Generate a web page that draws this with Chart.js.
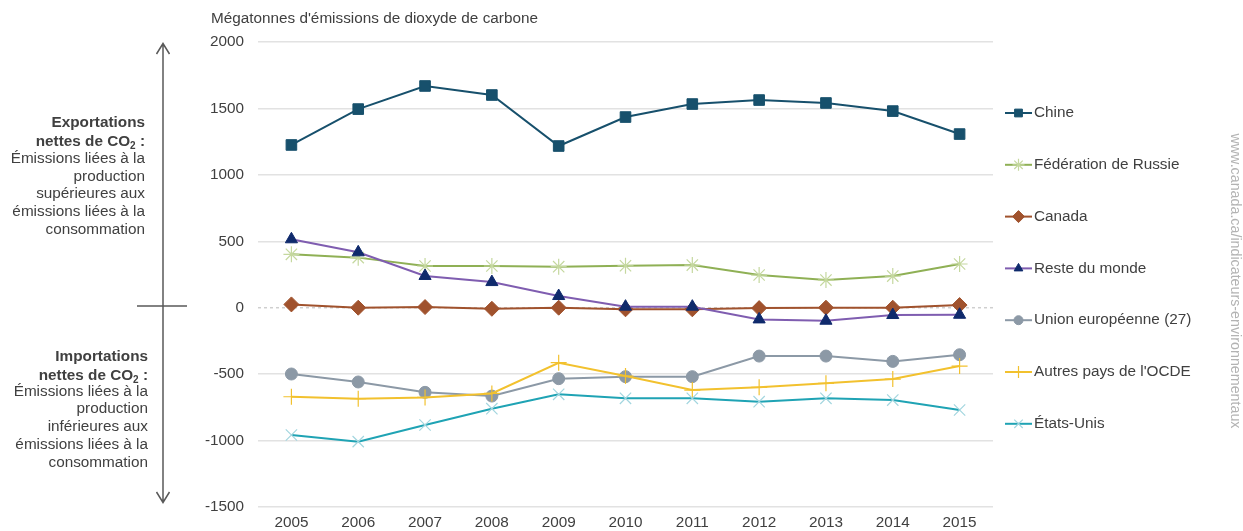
<!DOCTYPE html>
<html>
<head>
<meta charset="utf-8">
<script src="https://cdn.jsdelivr.net/npm/chart.js@4/dist/chart.umd.min.js"></script>
<style>
  html, body { margin: 0; padding: 0; background: #ffffff; }
  #wrap { width: 1243px; height: 531px; position: relative; }
  canvas { display: block; }
</style>
</head>
<body>
<div id="wrap"><canvas id="c" width="1243" height="531"></canvas></div>
<script>
// ---- Data ----
const years = ['2005','2006','2007','2008','2009','2010','2011','2012','2013','2014','2015'];
const seriesNames = ['Chine','Fédération de Russie','Canada','Reste du monde','Union européenne (27)',"Autres pays de l'OCDE",'États-Unis'];
const chine = [1225, 1495, 1669, 1601, 1217, 1435, 1533, 1563, 1541, 1480, 1307];
const russie = [402, 377, 314, 314, 309, 316, 321, 246, 208, 238, 329];
const canada = [25, 0, 5, -8, 0, -12, -12, -3, 0, 0, 20];
const resteMonde = [515, 417, 239, 193, 88, 8, 8, -88, -98, -55, -53];
const ue27 = [-499, -559, -637, -665, -534, -519, -519, -364, -364, -404, -354];
const autresOCDE = [-670, -685, -675, -645, -414, -514, -620, -599, -569, -537, -439];
const etatsUnis = [-958, -1008, -883, -760, -652, -682, -682, -707, -682, -695, -770];
const yTicks = [-1500, -1000, -500, 0, 500, 1000, 1500, 2000];
const yTitle = "Mégatonnes d'émissions de dioxyde de carbone";
const exportText = ['Exportations', 'nettes de CO|2| :', 'Émissions liées à la', 'production', 'supérieures aux', 'émissions liées à la', 'consommation'];
const importText = ['Importations', 'nettes de CO|2| :', 'Émissions liées à la', 'production', 'inférieures aux', 'émissions liées à la', 'consommation'];
const sourceText = 'www.canada.ca/indicateurs-environnementaux';

const FONT = "'Liberation Sans', Arial, sans-serif";
const TEXT = '#404040';
const FS = 15.3;

const styles = [
  { line: '#17506c', fill: '#17506c', stroke: '#17506c', ps: 'rect', r: 7.5, lr: 5.5, bw: 1 },
  { line: '#8fb055', fill: '#c5d89f', stroke: '#c5d89f', ps: 'star', r: 8, lr: 6, bw: 1.2 },
  { line: '#a0522d', fill: '#a0522d', stroke: '#a0522d', ps: 'rectRot', r: 7.5, lr: 6, bw: 1 },
  { line: '#7f5db0', fill: '#0f2a6c', stroke: '#0f2a6c', ps: 'triangle', r: 7, lr: 5, bw: 1 },
  { line: '#8c99a6', fill: '#8c99a6', stroke: '#8c99a6', ps: 'circle', r: 6, lr: 4.5, bw: 1 },
  { line: '#f2c12e', fill: '#f2c12e', stroke: '#f2c12e', ps: 'cross', r: 8, lr: 6, bw: 1.2 },
  { line: '#1fa3b4', fill: '#a3d6df', stroke: '#a3d6df', ps: 'crossRot', r: 8, lr: 6, bw: 1.2 }
];
const values = [chine, russie, canada, resteMonde, ue27, autresOCDE, etatsUnis];

const datasets = values.map((v, i) => ({
  label: seriesNames[i],
  data: v,
  borderColor: styles[i].line,
  borderWidth: 2,
  tension: 0,
  pointStyle: styles[i].ps,
  pointRadius: styles[i].r,
  pointHoverRadius: styles[i].r,
  pointBackgroundColor: styles[i].fill,
  pointBorderColor: styles[i].stroke,
  pointBorderWidth: styles[i].bw,
  order: values.length - i
}));

// Zero line (dotted)
const zeroLine = {
  id: 'zeroLine',
  beforeDatasetsDraw(chart) {
    const { ctx, chartArea, scales } = chart;
    const y = scales.y.getPixelForValue(0);
    ctx.save();
    ctx.strokeStyle = '#cfcfcf';
    ctx.lineWidth = 1.5;
    ctx.setLineDash([3, 3]);
    ctx.beginPath();
    ctx.moveTo(chartArea.left, y);
    ctx.lineTo(chartArea.right, y);
    ctx.stroke();
    ctx.restore();
  }
};

function drawRich(ctx, str, xRight, y, size, bold) {
  const parts = str.split('|');
  const main = (bold ? 'bold ' : '') + size + 'px ' + FONT;
  const sub = (bold ? 'bold ' : '') + Math.round(size * 0.68) + 'px ' + FONT;
  let widths = parts.map((p, k) => { ctx.font = (k % 2 === 1) ? sub : main; return ctx.measureText(p).width; });
  const total = widths.reduce((a, b) => a + b, 0);
  let x = xRight - total;
  ctx.textAlign = 'left';
  parts.forEach((p, k) => {
    ctx.font = (k % 2 === 1) ? sub : main;
    ctx.fillText(p, x, y + ((k % 2 === 1) ? 4 : 0));
    x += widths[k];
  });
}

const decorations = {
  id: 'decorations',
  afterDraw(chart) {
    const ctx = chart.ctx;
    ctx.save();
    // Title
    ctx.fillStyle = TEXT;
    ctx.font = FS + 'px ' + FONT;
    ctx.textAlign = 'left';
    ctx.textBaseline = 'middle';
    ctx.fillText(yTitle, 211, 19);

    // Arrow
    ctx.strokeStyle = '#595959';
    ctx.lineWidth = 1.5;
    ctx.beginPath();
    ctx.moveTo(163, 44); ctx.lineTo(163, 502);
    ctx.moveTo(156.5, 54); ctx.lineTo(163, 43.5); ctx.lineTo(169.5, 54);
    ctx.moveTo(156.5, 492); ctx.lineTo(163, 502.5); ctx.lineTo(169.5, 492);
    ctx.moveTo(137, 306); ctx.lineTo(187, 306);
    ctx.stroke();

    // Side texts
    ctx.fillStyle = TEXT;
    ctx.textBaseline = 'middle';
    const topY = [123, 142, 159, 177, 194, 212, 230];
    exportText.forEach((t, i) => drawRich(ctx, t, 145, topY[i], 15.3, i < 2));
    const botY = [357, 376, 392, 409, 427, 445, 463];
    importText.forEach((t, i) => drawRich(ctx, t, 148, botY[i], 15.3, i < 2));

    // Legend
    const ds = chart.data.datasets;
    ds.forEach((d, i) => {
      const y = 113 + i * 51.8;
      const st = styles[i];
      ctx.strokeStyle = st.line;
      ctx.lineWidth = 2;
      ctx.setLineDash([]);
      ctx.beginPath();
      ctx.moveTo(1005, y); ctx.lineTo(1032, y);
      ctx.stroke();
      ctx.fillStyle = st.fill;
      ctx.strokeStyle = st.stroke;
      ctx.lineWidth = st.bw;
      Chart.helpers.drawPoint(ctx, { pointStyle: st.ps, radius: st.lr, borderWidth: st.bw, rotation: 0 }, 1018.5, y);
      ctx.fillStyle = TEXT;
      ctx.font = FS + 'px ' + FONT;
      ctx.textAlign = 'left';
      ctx.textBaseline = 'middle';
      ctx.fillText(d.label, 1034, y);
    });

    // Source (vertical)
    ctx.fillStyle = '#b3b3b3';
    ctx.font = '14px ' + FONT;
    const w = ctx.measureText(sourceText).width;
    const fs = 14 * 295 / w;
    ctx.font = fs.toFixed(2) + 'px ' + FONT;
    ctx.translate(1235, 281);
    ctx.rotate(Math.PI / 2);
    ctx.textAlign = 'center';
    ctx.textBaseline = 'middle';
    ctx.fillText(sourceText, 0, 0);
    ctx.restore();
  }
};

new Chart(document.getElementById('c'), {
  type: 'line',
  data: { labels: years, datasets },
  options: {
    responsive: false,
    animation: false,
    devicePixelRatio: 1,
    layout: { padding: { left: 200, right: 250, top: 42, bottom: 0 } },
    plugins: { legend: { display: false }, tooltip: { enabled: false } },
    elements: { line: { tension: 0 } },
    scales: {
      x: {
        offset: true,
        grid: { display: false, drawTicks: false },
        border: { display: false },
        ticks: { color: TEXT, font: { family: FONT, size: FS }, padding: 7, maxRotation: 0 },
        afterFit(s) { s.height = 24; s.paddingLeft = 0; s.paddingRight = 0; }
      },
      y: {
        min: -1500, max: 2000,
        afterBuildTicks(s) { s.ticks = yTicks.map(v => ({ value: v })); },
        grid: {
          drawTicks: false,
          lineWidth: 1.5,
          color: (c) => (c.tick && c.tick.value === 0) ? 'rgba(0,0,0,0)' : '#e2e2e2'
        },
        border: { display: false },
        ticks: { color: TEXT, font: { family: FONT, size: FS }, padding: 14, callback: (v) => String(v) },
        afterFit(s) { s.width = 58; s.paddingTop = 0; s.paddingBottom = 0; }
      }
    }
  },
  plugins: [zeroLine, decorations]
});
</script>
</body>
</html>
